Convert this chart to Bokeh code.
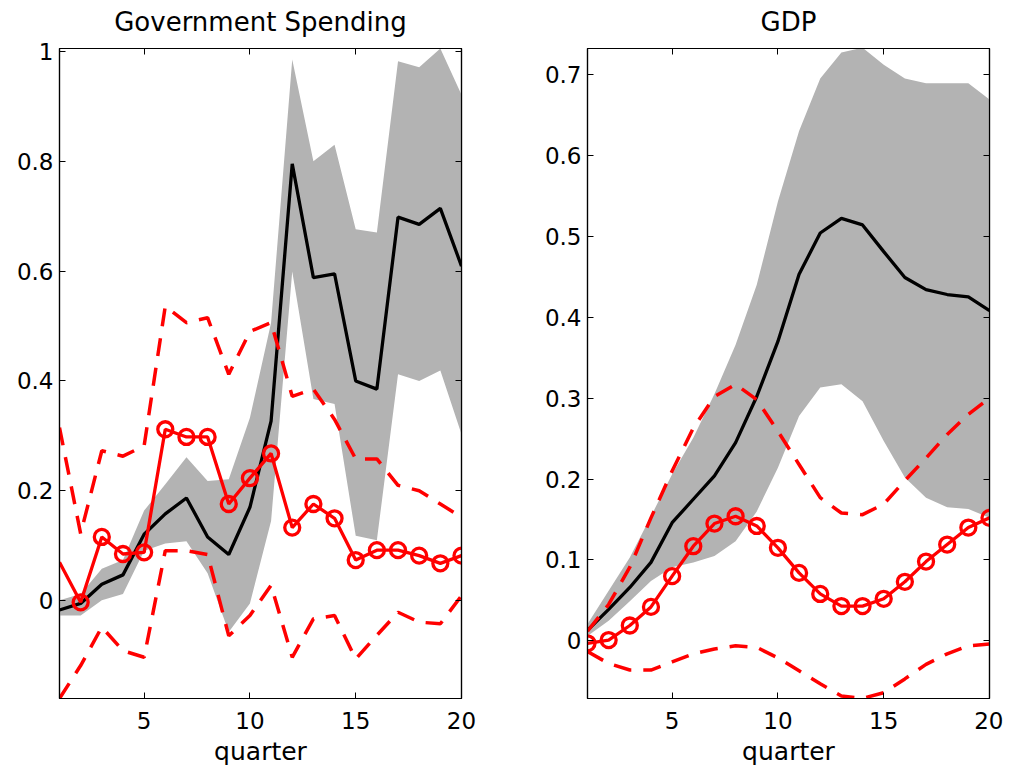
from bokeh.plotting import figure
from bokeh.models import LinearAxis, FixedTicker, Range1d
from bokeh.layouts import row
from bokeh.embed import file_html
from bokeh.resources import INLINE

quarters = list(range(1, 21))

# Government Spending panel
gov_median = [-0.017, -0.005, 0.030, 0.047, 0.121, 0.158, 0.187, 0.116, 0.084, 0.170,
              0.327, 0.795, 0.588, 0.595, 0.400, 0.385, 0.698, 0.685, 0.714, 0.609]
gov_band_lo = [-0.027, -0.027, 0.001, 0.012, 0.091, 0.104, 0.108, 0.050, -0.057, -0.005,
               0.145, 0.599, 0.367, 0.358, 0.118, 0.110, 0.412, 0.400, 0.419, 0.303]
gov_band_hi = [0.001, 0.012, 0.058, 0.074, 0.164, 0.212, 0.261, 0.218, 0.221, 0.333,
               0.506, 0.985, 0.800, 0.830, 0.676, 0.670, 0.982, 0.971, 1.005, 0.921]
gov_alt = [0.070, -0.003, 0.116, 0.085, 0.088, 0.312, 0.298, 0.298, 0.176, 0.223,
           0.268, 0.133, 0.176, 0.150, 0.074, 0.092, 0.092, 0.082, 0.068, 0.082]
gov_alt_lo = [-0.178, -0.118, -0.048, -0.091, -0.103, 0.091, 0.091, 0.084, -0.064, -0.027,
              0.028, -0.103, -0.033, -0.027, -0.106, -0.063, -0.021, -0.039, -0.042, 0.009]
gov_alt_hi = [0.315, 0.122, 0.273, 0.263, 0.282, 0.536, 0.506, 0.515, 0.412, 0.490,
              0.506, 0.372, 0.385, 0.330, 0.258, 0.258, 0.210, 0.200, 0.176, 0.152]

# GDP panel
gdp_median = [0.013, 0.039, 0.066, 0.097, 0.146, 0.175, 0.204, 0.245, 0.302, 0.370,
              0.453, 0.504, 0.522, 0.514, 0.481, 0.449, 0.434, 0.428, 0.425, 0.408]
gdp_band_lo = [0.006, 0.025, 0.049, 0.074, 0.091, 0.097, 0.105, 0.123, 0.160, 0.214,
               0.278, 0.313, 0.317, 0.296, 0.247, 0.202, 0.177, 0.165, 0.163, 0.152]
gdp_band_hi = [0.021, 0.062, 0.103, 0.154, 0.206, 0.251, 0.305, 0.366, 0.440, 0.543,
               0.630, 0.695, 0.727, 0.733, 0.712, 0.695, 0.689, 0.689, 0.689, 0.669]
gdp_alt = [-0.003, 0.001, 0.019, 0.042, 0.080, 0.117, 0.145, 0.154, 0.142, 0.115,
           0.084, 0.058, 0.043, 0.043, 0.052, 0.073, 0.098, 0.119, 0.140, 0.152]
gdp_alt_lo = [-0.013, -0.028, -0.036, -0.036, -0.026, -0.016, -0.010, -0.006, -0.008, -0.021,
              -0.037, -0.053, -0.068, -0.071, -0.064, -0.047, -0.029, -0.016, -0.006, -0.004]
gdp_alt_hi = [0.012, 0.045, 0.091, 0.152, 0.210, 0.263, 0.302, 0.317, 0.298, 0.259,
              0.218, 0.177, 0.158, 0.156, 0.169, 0.198, 0.226, 0.255, 0.280, 0.300]

x_ticks = [5, 10, 15, 20]
x_tick_labels = ["5", "10", "15", "20"]
gov_y_ticks = [0, 0.2, 0.4, 0.6, 0.8, 1]
gov_y_tick_labels = ["0", "0.2", "0.4", "0.6", "0.8", "1"]
gdp_y_ticks = [0, 0.1, 0.2, 0.3, 0.4, 0.5, 0.6, 0.7]
gdp_y_tick_labels = ["0", "0.1", "0.2", "0.3", "0.4", "0.5", "0.6", "0.7"]

FONT = "DejaVu Sans"
RED = "#ff0000"
GRAY = "#b3b3b3"


def style_axis(ax, labels=True):
    ax.major_tick_in = 6
    ax.major_tick_out = 0
    ax.minor_tick_in = 0
    ax.minor_tick_out = 0
    ax.axis_line_color = "black"
    ax.axis_line_width = 1.2
    ax.major_tick_line_color = "black"
    ax.major_label_text_font = FONT
    ax.major_label_text_font_size = "23px"
    ax.major_label_text_color = "black"
    if not labels:
        ax.major_label_text_font_size = "0px"
        ax.major_label_text_color = None
        ax.major_label_standoff = 0


def panel(title, med, lo, hi, alt, alt_lo, alt_hi, y_range, yticks, ylabels,
          marker_from, mbl, mbr):
    p = figure(frame_width=402, frame_height=650, output_backend="svg",
               toolbar_location=None, x_range=Range1d(1, 20), y_range=Range1d(*y_range),
               min_border_left=mbl, min_border_right=mbr, min_border_top=0,
               min_border_bottom=64, title=title)
    p.title.align = "center"
    p.title.text_font = FONT
    p.title.text_font_size = "26px"
    p.title.text_font_style = "normal"
    p.title.text_color = "black"
    p.title.standoff = 24
    p.title.text_line_height = 0.8
    p.grid.visible = False
    p.outline_line_color = "black"
    p.outline_line_width = 1.2
    p.background_fill_color = "white"
    p.border_fill_color = "white"

    p.varea(x=quarters, y1=lo, y2=hi, fill_color=GRAY)
    p.line(quarters, med, line_color="black", line_width=3.3)
    p.line(quarters, alt_lo, line_color=RED, line_width=3.5, line_dash="18 12")
    p.line(quarters, alt_hi, line_color=RED, line_width=3.5, line_dash="18 12")
    p.line(quarters, alt, line_color=RED, line_width=3.3)
    p.scatter(quarters[marker_from:], alt[marker_from:], marker="circle", size=15,
              fill_color=None, line_color=RED, line_width=3.3)

    xov = {t: l for t, l in zip(x_ticks, x_tick_labels)}
    yov = {t: l for t, l in zip(yticks, ylabels)}
    p.xaxis.ticker = FixedTicker(ticks=x_ticks)
    p.xaxis.major_label_overrides = xov
    p.yaxis.ticker = FixedTicker(ticks=yticks)
    p.yaxis.major_label_overrides = yov
    for ax in p.xaxis + p.yaxis:
        style_axis(ax)
    p.xaxis.major_label_standoff = 13
    p.yaxis.major_label_standoff = 6
    p.xaxis.axis_label = "quarter"
    p.xaxis.axis_label_text_font = FONT
    p.xaxis.axis_label_text_font_size = "25px"
    p.xaxis.axis_label_text_font_style = "normal"
    p.xaxis.axis_label_text_color = "black"
    p.xaxis.axis_label_standoff = 5

    top = LinearAxis(ticker=FixedTicker(ticks=x_ticks))
    right = LinearAxis(ticker=FixedTicker(ticks=yticks))
    style_axis(top, labels=False)
    style_axis(right, labels=False)
    p.add_layout(top, "above")
    p.add_layout(right, "right")
    return p


p1 = panel("Government Spending", gov_median, gov_band_lo, gov_band_hi, gov_alt,
           gov_alt_lo, gov_alt_hi, (-0.178, 1.005), gov_y_ticks, gov_y_tick_labels,
           1, 59, 63)
p2 = panel("GDP", gdp_median, gdp_band_lo, gdp_band_hi, gdp_alt,
           gdp_alt_lo, gdp_alt_hi, (-0.0712, 0.732), gdp_y_ticks, gdp_y_tick_labels,
           0, 63, 14)

layout = row(p1, p2, spacing=0, margin=(-8, 0, 0, 0))
open("out.html", "w").write(file_html(layout, INLINE))
